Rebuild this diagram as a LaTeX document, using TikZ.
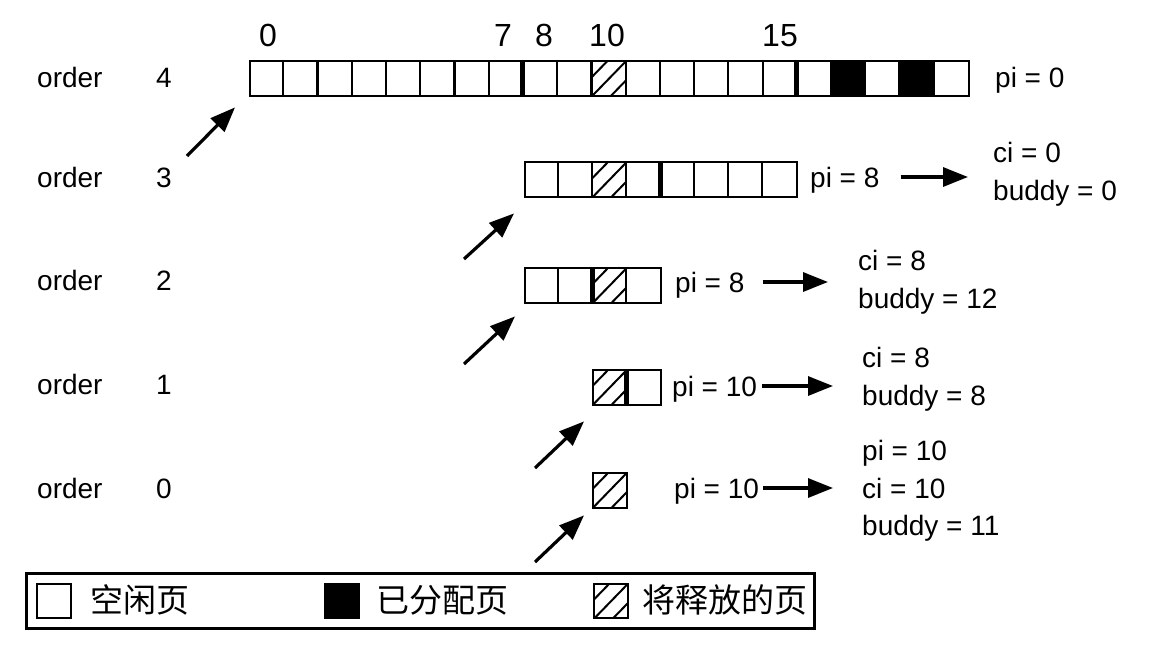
\documentclass[tikz,border=0pt]{standalone}
\usepackage{fontspec}
\setmainfont{Liberation Sans}
\newfontfamily\cjkfont{Noto Sans CJK SC}
\usetikzlibrary{arrows.meta,calc}
\newcommand\hatchat[3]{%
  \begin{scope}[shift={(#1,#2)}]
    \clip (0,0) rectangle (#3,35);
    \foreach \k in {0.5,-0.05,-0.6}
      \draw[hatchline] (-17,{35-(\k-0.5)*35}) -- (51,{35-(\k+1.5)*35});
  \end{scope}}
\begin{document}
\begin{tikzpicture}[x=1pt,y=-1pt,
  rowbox/.style={draw, line width=2.4pt, inner sep=0pt, minimum height=35pt, anchor=north west},
  keybox/.style={draw, line width=2.4pt, inner sep=0pt, minimum width=34pt, minimum height=34pt, anchor=north west},
  divider/.style={line width=2.2pt},
  thickdiv/.style={line width=5pt},
  hatchline/.style={line width=2pt},
  lbl/.style={font=\fontsize{28}{30}\selectfont, inner sep=0pt, text height=20pt, text depth=0pt, anchor=west},
  toplbl/.style={font=\fontsize{32}{34}\selectfont, inner sep=0pt, text height=23pt, text depth=0pt},
  arr/.style={line width=3.2pt, -{Triangle[length=25pt,width=19pt]}},
  cjk/.style={font=\cjkfont\fontsize{33}{35}\selectfont, inner sep=0pt, anchor=west},
]
\useasboundingbox (0,0) rectangle (1152,656);

% order labels
\foreach \n/\y in {4/77,3/177,2/280,1/384,0/488} {
  \node[lbl] (o\n) at (37,\y) {order};
  \node[lbl, anchor=center] (n\n) at (164,\y) {\n};
}

% page numbers
\node[toplbl] (p0)  at (268,35) {0};
\node[toplbl] (p7)  at (503,35) {7};
\node[toplbl] (p8)  at (544,35) {8};
\node[toplbl] (p10) at (607,35) {10};
\node[toplbl] (p15) at (780,35) {15};

% row order 4
\fill ({249+17*34.24},60) rectangle ++(34.24,35);
\fill ({249+19*34.24},60) rectangle ++(34.24,35);
\hatchat{591.4}{60}{34.24}
\foreach \i in {1,...,20} \draw[divider] ({249+\i*34.24},60) -- ++(0,35);
\foreach \i in {8,16} \draw[thickdiv] ({249+\i*34.24},60) -- ++(0,35);
\node[rowbox, minimum width=719pt] (r4) at (249,60) {};

% row order 3
\hatchat{592}{161}{34}
\foreach \i in {1,...,7} \draw[divider] ({524+\i*34},161) -- ++(0,35);
\draw[thickdiv] (660,161) -- ++(0,35);
\node[rowbox, minimum width=272pt] (r3) at (524,161) {};

% row order 2
\hatchat{592}{267}{34}
\foreach \i in {1,...,3} \draw[divider] ({524+\i*34},267) -- ++(0,35);
\draw[thickdiv] (592,267) -- ++(0,35);
\node[rowbox, minimum width=136pt] (r2) at (524,267) {};

% row order 1
\hatchat{592}{369}{34}
\draw[thickdiv] (626,369) -- ++(0,35);
\node[rowbox, minimum width=68pt] (r1) at (592,369) {};

% row order 0
\hatchat{592}{472}{34}
\node[rowbox, minimum width=34pt] (r0) at (592,472) {};

% right-hand texts
\node[lbl] (pi4) at (995,77) {pi = 0};

\node[lbl] (pi3) at (810,177) {pi = 8};
\node[lbl] (ci3) at (993,152) {ci = 0};
\node[lbl] (bd3) at (993,190) {buddy = 0};

\node[lbl] (pi2) at (675,282) {pi = 8};
\node[lbl] (ci2) at (858,260) {ci = 8};
\node[lbl] (bd2) at (858,298) {buddy = 12};

\node[lbl] (pi1) at (672,386) {pi = 10};
\node[lbl] (ci1) at (862,357) {ci = 8};
\node[lbl] (bd1) at (862,395) {buddy = 8};

\node[lbl] (pi0) at (674,488) {pi = 10};
\node[lbl] (pj0) at (862,450) {pi = 10};
\node[lbl] (ci0) at (862,488) {ci = 10};
\node[lbl] (bd0) at (862,525) {buddy = 11};

% horizontal arrows
\draw[arr] ($(pi3.east)+(21,0)$) -- ($(ci3.west |- pi3.east)+(-25,0)$);
\draw[arr] ($(pi2.east)+(18,0)$) -- ($(ci2.west |- pi2.east)+(-30,0)$);
\draw[arr] ($(pi1.east)+(5,0)$) -- ($(ci1.west |- pi1.east)+(-29,0)$);
\draw[arr] ($(pi0.east)+(4,0)$) -- ($(ci0.west |- pi0.east)+(-29,0)$);

% diagonal arrows
\coordinate (t4) at (187,156);
\coordinate (t3) at (464,259);
\coordinate (t2) at (464,364);
\coordinate (t1) at (535,468);
\coordinate (t0) at (535,562);
\draw[arr] (t4) -- ($(r4.south west)+(-14,10)$);
\draw[arr] (t3) -- ($(r3.south west)+(-10,15)$);
\draw[arr] (t2) -- ($(r2.south west)+(-9,12)$);
\draw[arr] (t1) -- ($(r1.south west)+(-8,15)$);
\draw[arr] (t0) -- ($(r0.south west)+(-8,6)$);

% legend
\node[draw, line width=2.8pt, inner sep=0pt, minimum width=788pt, minimum height=55pt, anchor=north west] (leg) at (25,572) {};
\node[keybox] (kw) at (36,583) {};
\node[keybox, fill=black] (kb) at (324,583) {};
\hatchat{593}{583}{34}
\node[keybox] (kh) at (593,583) {};
\node[cjk] (tw) at (90,600) {空闲页};
\node[cjk] (tb) at (376,600) {已分配页};
\node[cjk] (th) at (642,600) {将释放的页};
\end{tikzpicture}
\end{document}
